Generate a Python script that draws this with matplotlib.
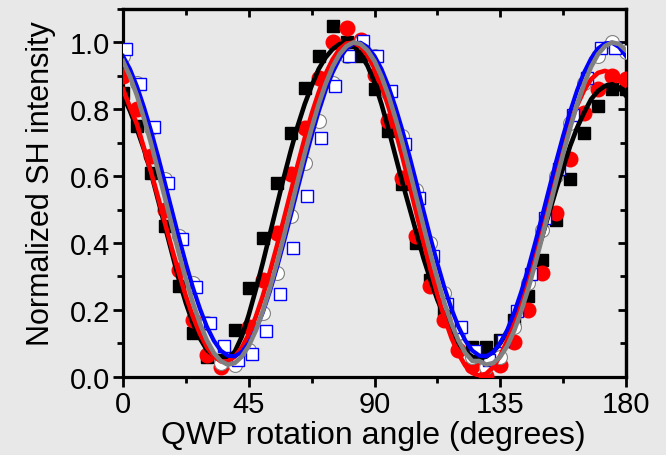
import numpy as np
import matplotlib
matplotlib.use("Agg")
import matplotlib.pyplot as plt
from matplotlib.ticker import MultipleLocator, FormatStrFormatter

plt.rcParams['font.family'] = ['Liberation Sans', 'DejaVu Sans']

# Messpunkte (alle 5 Grad), blau um 1 Grad versetzt
angle = np.arange(0, 181, 5)
angle_blue = np.arange(1, 177, 5)

black_pts = [0.85, 0.75, 0.61, 0.45, 0.27, 0.13, 0.06, 0.05, 0.14, 0.265, 0.415, 0.58, 0.73,
             0.865, 0.958, 1.05, 1.0, 0.96, 0.86, 0.735, 0.575, 0.40, 0.29, 0.20, 0.13, 0.09,
             0.09, 0.11, 0.17, 0.24, 0.35, 0.47, 0.59, 0.73, 0.81, 0.86, 0.86]
red_pts = [0.90, 0.80, 0.66, 0.50, 0.32, 0.17, 0.065, 0.03, 0.04, 0.15, 0.29, 0.43, 0.607,
           0.744, 0.894, 1.0, 1.043, 1.008, 0.904, 0.764, 0.595, 0.42, 0.27, 0.17, 0.08, 0.033,
           0.003, 0.035, 0.105, 0.20, 0.31, 0.49, 0.65, 0.79, 0.86, 0.90, 0.89]
gray_pts = [0.96, 0.88, 0.745, 0.59, 0.42, 0.28, 0.16, 0.04, 0.035, 0.08, 0.19, 0.31, 0.48,
            0.64, 0.765, 0.88, 0.96, 1.0, 0.96, 0.85, 0.72, 0.56, 0.40, 0.25, 0.13, 0.06,
            0.03, 0.06, 0.15, 0.28, 0.44, 0.60, 0.76, 0.88, 0.96, 1.0, 0.97]
blue_pts = [0.98, 0.876, 0.747, 0.58, 0.413, 0.267, 0.162, 0.093, 0.05, 0.068, 0.137, 0.247,
            0.386, 0.54, 0.715, 0.869, 0.958, 1.005, 0.958, 0.854, 0.695, 0.535, 0.361, 0.217,
            0.15, 0.078, 0.05, 0.107, 0.197, 0.307, 0.476, 0.62, 0.784, 0.894, 0.983, 0.983]

angle_fit = np.arange(0, 180.1, 2.5)
black_fit = [0.84, 0.795, 0.74, 0.68, 0.61, 0.53, 0.45, 0.37, 0.29, 0.22, 0.16, 0.115, 0.08,
             0.063, 0.056, 0.057, 0.075, 0.12, 0.185, 0.26, 0.34, 0.425, 0.51, 0.595, 0.675,
             0.75, 0.815, 0.87, 0.92, 0.955, 0.98, 0.995, 1.0, 0.99, 0.965, 0.93, 0.88, 0.815,
             0.74, 0.66, 0.58, 0.505, 0.43, 0.355, 0.29, 0.23, 0.18, 0.135, 0.10, 0.075, 0.06,
             0.055, 0.06, 0.075, 0.10, 0.135, 0.18, 0.23, 0.29, 0.355, 0.42, 0.49, 0.56, 0.625,
             0.69, 0.745, 0.79, 0.83, 0.855, 0.87, 0.875, 0.865, 0.84]
red_fit = [0.86, 0.806, 0.755, 0.684, 0.613, 0.538, 0.460, 0.383, 0.310, 0.241, 0.180, 0.129,
           0.089, 0.061, 0.046, 0.046, 0.060, 0.087, 0.127, 0.179, 0.241, 0.312, 0.389, 0.470,
           0.552, 0.634, 0.713, 0.786, 0.850, 0.906, 0.949, 0.980, 0.997, 0.999, 0.988, 0.961,
           0.922, 0.870, 0.807, 0.736, 0.657, 0.574, 0.489, 0.404, 0.322, 0.246, 0.177, 0.117,
           0.069, 0.033, 0.011, 0.003, 0.009, 0.029, 0.063, 0.109, 0.166, 0.232, 0.305, 0.382,
           0.462, 0.542, 0.619, 0.691, 0.756, 0.812, 0.857, 0.890, 0.909, 0.915, 0.907, 0.886,
           0.87]
gray_fit = [0.944, 0.898, 0.841, 0.773, 0.699, 0.618, 0.535, 0.451, 0.369, 0.292, 0.221, 0.160,
            0.109, 0.071, 0.047, 0.036, 0.041, 0.060, 0.092, 0.138, 0.196, 0.263, 0.337, 0.418,
            0.501, 0.585, 0.667, 0.744, 0.815, 0.876, 0.927, 0.965, 0.989, 1.0, 0.995, 0.976,
            0.944, 0.898, 0.841, 0.773, 0.699, 0.618, 0.535, 0.451, 0.369, 0.292, 0.221, 0.160,
            0.109, 0.071, 0.047, 0.047, 0.036, 0.041, 0.060, 0.092, 0.138, 0.196, 0.263, 0.337,
            0.418, 0.501, 0.585, 0.667, 0.744, 0.815, 0.876, 0.927, 0.965, 0.989, 1.0, 0.995,
            0.976]
blue_fit = [0.959, 0.920, 0.868, 0.806, 0.736, 0.660, 0.579, 0.497, 0.416, 0.339, 0.267, 0.204,
            0.150, 0.108, 0.078, 0.063, 0.061, 0.074, 0.101, 0.140, 0.192, 0.254, 0.324, 0.401,
            0.481, 0.563, 0.644, 0.721, 0.793, 0.857, 0.910, 0.952, 0.982, 0.997, 0.999, 0.986,
            0.959, 0.920, 0.868, 0.806, 0.736, 0.660, 0.579, 0.497, 0.416, 0.339, 0.267, 0.204,
            0.150, 0.108, 0.078, 0.063, 0.061, 0.074, 0.101, 0.140, 0.192, 0.254, 0.324, 0.401,
            0.481, 0.563, 0.644, 0.721, 0.793, 0.857, 0.910, 0.952, 0.982, 0.997, 0.999, 0.986,
            0.959]

bg = '#e8e8e8'
fig = plt.figure(figsize=(6.66, 4.56), dpi=100, facecolor=bg)
ax = fig.add_axes([0.1847, 0.1717, 0.7553, 0.8064], facecolor=bg)

# Punkte
ax.plot(angle, black_pts, 's', color='black', ms=9, zorder=3)
ax.plot(angle, red_pts, 'o', color='red', ms=10.5, zorder=3)
ax.plot(angle, gray_pts, 'o', mfc='white', mec='#808080', mew=0.8, ms=10, zorder=3)
ax.plot(angle_blue, blue_pts, 's', mfc='white', mec='blue', mew=1.0, ms=8.5, zorder=3)

# Fits
ax.plot(angle_fit, black_fit, '-', color='black', lw=3.3, zorder=4)
ax.plot(angle_fit, red_fit, '-', color='red', lw=3.3, zorder=4)
ax.plot(angle_fit, blue_fit, '-', color='blue', lw=3.0, zorder=4)
ax.plot(angle_fit, gray_fit, '-', color='#808080', lw=3.3, zorder=4)

ax.set_xlim(0, 180)
ax.set_ylim(0, 1.1)
ax.xaxis.set_major_locator(MultipleLocator(45))
ax.xaxis.set_minor_locator(MultipleLocator(22.5))
ax.yaxis.set_major_locator(MultipleLocator(0.2))
ax.yaxis.set_minor_locator(MultipleLocator(0.1))
ax.yaxis.set_major_formatter(FormatStrFormatter('%.1f'))
ax.tick_params(which='major', direction='out', length=7, width=2, labelsize=21, pad=2.5)
ax.tick_params(which='minor', direction='out', length=4, width=2)
for s in ax.spines.values():
    s.set_linewidth(2.3)

# Gegenseitige Ticks nach innen
top = ax.secondary_xaxis('top')
top.xaxis.set_major_locator(MultipleLocator(45))
top.xaxis.set_minor_locator(MultipleLocator(22.5))
top.tick_params(which='major', direction='in', length=6, width=2, labeltop=False)
top.tick_params(which='minor', direction='in', length=4, width=2)
right = ax.secondary_yaxis('right')
right.yaxis.set_major_locator(MultipleLocator(0.2))
right.yaxis.set_minor_locator(MultipleLocator(0.1))
right.tick_params(which='major', direction='in', length=6, width=2, labelright=False)
right.tick_params(which='minor', direction='in', length=4, width=2)
for sec in (top, right):
    for s in sec.spines.values():
        s.set_linewidth(2.3)

ax.set_xlabel('QWP rotation angle (degrees)', fontsize=23)
ax.set_ylabel('Normalized SH intensity', fontsize=22)
ax.xaxis.set_label_coords(0.498, -0.117)
ax.yaxis.set_label_coords(-0.133, 0.529)

fig.savefig('out.png', dpi=100, facecolor=bg)
